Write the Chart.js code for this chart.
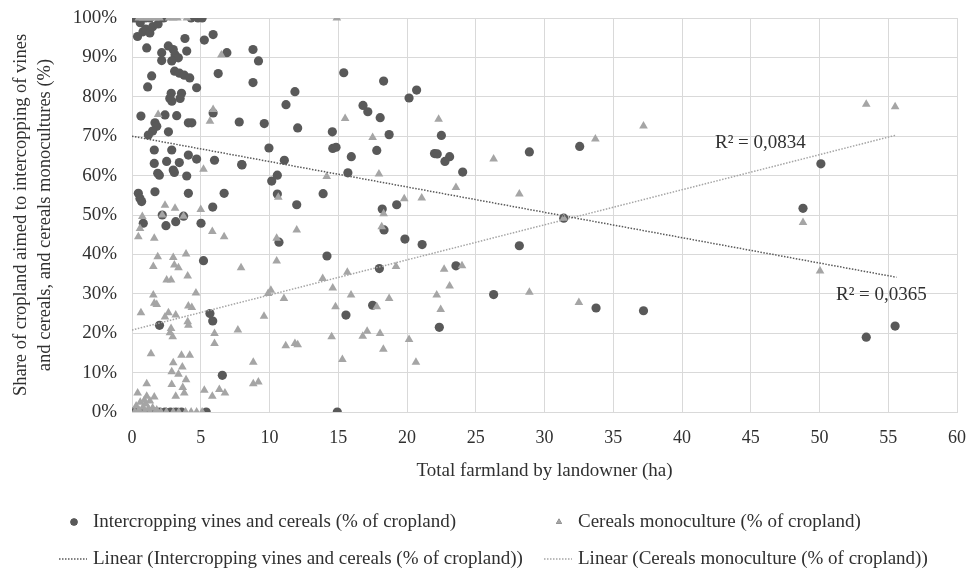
<!DOCTYPE html>
<html>
<head>
<meta charset="utf-8">
<script src="https://cdn.jsdelivr.net/npm/chart.js@4.4.0/dist/chart.umd.min.js"></script>
<style>
html, body { margin: 0; padding: 0; background: #fff; }
</style>
</head>
<body>
<canvas id="myChart" width="978" height="574"></canvas>
<script>
// Intercropping vines and cereals (% of cropland), x = total farmland (ha)
var intercropX = [0.1, 0.3, 0.6, 1.0, 1.3, 2.3, 4.3, 4.8, 5.1,
	0.4, 0.8, 1.0, 1.3, 1.5, 1.9, 0.6,
	3.85, 5.26, 5.9, 1.07, 2.64, 3.0, 2.16, 3.13, 3.37, 2.89, 2.16,
	3.98, 6.9, 1.43, 1.14, 3.1, 3.45, 3.8, 4.2, 4.7, 6.27, 2.85, 3.6, 2.75, 3.5, 2.9,
	0.65, 2.4, 3.25, 1.67, 1.8, 1.5, 4.1, 4.35, 2.65, 1.19, 5.9, 7.8,
	1.62, 2.89, 4.1, 4.7, 6.0, 8.0, 1.62, 2.52, 3.44, 3.0, 3.08, 1.87, 1.99, 3.98,
	0.46, 0.58, 0.7, 1.67, 4.1, 6.7, 5.87, 2.2, 3.75, 0.82, 2.47, 3.18, 5.02,
	5.2, 2.0, 5.67, 5.87, 6.57,
	0.1, 0.4, 0.8, 1.2, 1.6, 2.0, 2.4, 2.8, 3.2, 3.6, 5.4, 14.93,
	8.8, 9.2, 8.8, 15.4, 18.3, 11.85, 11.2, 20.15, 20.7, 16.8, 17.15, 18.05, 9.62, 12.05,
	14.57, 18.7, 9.96, 14.6, 14.84, 17.8, 22.0, 7.98, 11.08, 15.95, 15.7, 10.16, 10.57,
	10.57, 13.9, 11.98, 18.2, 19.25, 18.33, 10.69, 19.85, 21.1, 14.18, 17.99, 17.5, 15.56,
	28.9, 32.56, 22.5, 22.2, 23.1, 22.76, 24.05, 31.4, 28.17, 23.56, 22.35, 26.3, 33.75,
	37.2, 50.1, 48.8, 53.4, 55.5];
var intercropY = [100, 100, 100, 100, 100, 100, 100, 100, 100,
	95.3, 96.5, 97.2, 96.2, 97.8, 98.5, 98.8,
	94.8, 94.4, 95.8, 92.4, 92.9, 92.0, 91.2, 90.7, 89.9, 89.1, 89.2,
	91.6, 91.2, 85.3, 82.5, 86.5, 86.0, 85.5, 84.8, 82.3, 85.9, 80.9, 80.9, 79.6, 79.6, 78.9,
	75.1, 75.4, 75.2, 73.4, 72.5, 71.3, 73.4, 73.4, 71.1, 70.3, 75.9, 73.6,
	66.5, 66.5, 65.2, 64.2, 63.9, 62.7, 63.1, 63.6, 63.3, 61.4, 60.8, 60.6, 60.1, 59.9,
	55.5, 54.2, 53.4, 55.9, 55.5, 55.5, 52.0, 50.0, 49.7, 47.9, 47.3, 48.3, 47.9,
	38.4, 22.0, 25.0, 23.1, 9.3,
	0, 0, 0, 0, 0, 0, 0, 0, 0, 0, 0, 0,
	92.0, 89.1, 83.6, 86.1, 84.0, 81.3, 78.0, 79.7, 81.7, 77.8, 76.2, 74.7, 73.2, 72.1,
	71.1, 70.4, 67.0, 66.9, 67.2, 66.4, 65.6, 62.8, 63.9, 64.8, 60.7, 58.6, 60.1,
	55.3, 55.4, 52.6, 51.5, 52.6, 46.2, 43.1, 43.9, 42.5, 39.6, 36.4, 27.1, 24.6,
	66.0, 67.4, 70.2, 65.5, 64.8, 63.6, 60.9, 49.2, 42.2, 37.1, 21.5, 29.8, 26.4,
	25.7, 63.0, 51.7, 19.0, 21.8];

// Cereals monoculture (% of cropland)
var cerealsX = [0.5, 0.8, 1.1, 1.4, 1.7, 2.0, 2.7, 3.0, 3.3, 4.0,
	14.9, 6.5, 1.9, 5.9, 5.67, 5.2, 2.4, 3.13, 5.0, 2.2, 3.75, 0.75, 0.58, 0.46, 1.62,
	5.84, 6.7, 1.87, 3.0, 3.93, 1.55, 3.08, 3.38, 7.93, 2.52, 2.84, 4.05, 4.65, 1.55,
	1.62, 1.8, 4.1, 4.35, 0.65, 2.65, 3.18, 2.4, 4.05, 4.1, 2.84, 2.76, 2.96, 6.0, 6.0,
	7.7, 1.38, 3.6, 4.2, 3.0, 3.66, 2.89, 3.38, 3.93, 1.07, 2.89, 3.69, 3.8, 3.18,
	0.41, 1.07, 1.62, 5.26, 5.84, 6.35, 6.76,
	0.3, 0.6, 0.8, 1.0, 1.2, 0.5, 1.5, 1.8, 0.9, 1.3,
	0.2, 0.5, 0.9, 1.3, 1.7, 2.1, 2.5, 3.0, 3.4, 3.9, 4.3, 4.7, 5.1,
	14.16, 17.96, 10.64, 19.8, 21.07, 15.5, 17.5, 18.3, 18.16, 10.52, 11.98, 10.52,
	19.2, 15.66, 13.87, 14.6, 15.93, 18.7, 10.1, 9.9, 11.05, 14.8, 17.8, 9.6, 14.52,
	16.78, 17.1, 18.04, 20.15, 18.28, 11.18, 11.85, 12.05, 15.3, 20.65, 8.82, 8.82, 9.19,
	22.3, 26.3, 33.7, 37.2, 23.56, 28.17, 31.4, 24.0, 22.7, 23.1, 22.16, 22.45, 28.9,
	32.5, 53.4, 55.5, 48.8, 50.04];
var cerealsY = [100, 100, 100, 100, 100, 100, 100, 100, 100, 100,
	100, 90.6, 75.5, 76.8, 73.8, 61.6, 52.5, 51.7, 51.4, 50.0, 49.7, 49.6, 46.6, 44.5, 44.1,
	45.8, 44.5, 39.4, 39.2, 40.1, 36.9, 37.3, 36.6, 36.6, 33.5, 33.5, 34.5, 30.2, 29.7,
	27.6, 27.3, 26.9, 26.5, 25.2, 25.2, 24.6, 24.1, 22.9, 22.0, 21.2, 20.1, 19.1, 19.9, 17.4,
	20.8, 14.8, 14.4, 14.4, 12.5, 11.4, 10.2, 9.6, 8.2, 7.2, 7.0, 6.2, 4.8, 4.0,
	4.8, 4.0, 3.8, 5.5, 4.0, 5.7, 4.8,
	1.5, 2.5, 1.2, 2.0, 0.8, 0.5, 1.0, 0.5, 3.0, 2.8,
	0, 0, 0, 0, 0, 0, 0, 0, 0, 0, 0, 0, 0,
	59.8, 60.4, 54.5, 54.1, 54.3, 74.5, 69.7, 50.3, 47.0, 44.1, 46.2, 38.3,
	36.9, 35.5, 33.9, 31.5, 29.7, 28.8, 30.9, 30.1, 28.8, 26.7, 26.7, 24.3, 19.1,
	19.2, 20.5, 19.9, 18.4, 15.9, 16.8, 17.4, 17.1, 13.3, 12.6, 12.6, 7.2, 7.6,
	74.3, 64.2, 69.3, 72.6, 57.0, 55.3, 49.2, 37.1, 36.2, 32.0, 29.7, 26.0, 30.4,
	27.8, 78.1, 77.5, 48.1, 35.8];

// linear trendlines, end points
var trendX = [0, 55.6];
var intercropTrendY = [70.0, 34.2];
var cerealsTrendY = [20.8, 70.3];
var r2Text = ['R² = 0,0834', 'R² = 0,0365'];
var r2X = [42.4, 51.2];
var r2Y = [68.3, 29.7];

var seriesNames = ['Intercropping vines and cereals (% of cropland)', 'Cereals monoculture (% of cropland)'];

function toPoints(xs, ys) {
	var out = [];
	for (var i = 0; i < xs.length; i++) {
		out.push({ x: xs[i], y: ys[i] });
	}
	return out;
}

var serif = 'Liberation Serif, Times New Roman, serif';
var darkGrey = '#595959';
var lightGrey = '#a5a5a5';
var textCol = '#303030';

// R² labels next to the trendlines
var r2Plugin = {
	id: 'r2labels',
	afterDatasetsDraw: function(chart) {
		var ctx = chart.ctx;
		ctx.save();
		ctx.font = '19px ' + serif;
		ctx.fillStyle = textCol;
		ctx.textAlign = 'left';
		ctx.textBaseline = 'middle';
		for (var i = 0; i < r2Text.length; i++) {
			ctx.fillText(r2Text[i], chart.scales.x.getPixelForValue(r2X[i]), chart.scales.y.getPixelForValue(r2Y[i]));
		}
		ctx.restore();
	}
};

// legend laid out in two columns like the original
var legendPlugin = {
	id: 'twoColLegend',
	afterDraw: function(chart) {
		var ctx = chart.ctx;
		var ds = chart.data.datasets;
		var slots = [
			{ x: 59, y: 522 },
			{ x: 544, y: 522 },
			{ x: 59, y: 559 },
			{ x: 544, y: 559 }
		];
		ctx.save();
		ctx.font = '19px ' + serif;
		ctx.textBaseline = 'middle';
		for (var i = 0; i < ds.length; i++) {
			var s = slots[i];
			if (ds[i].showLine) {
				ctx.strokeStyle = ds[i].borderColor;
				ctx.lineWidth = 1.5;
				ctx.setLineDash([1.5, 1.5]);
				ctx.beginPath();
				ctx.moveTo(s.x, s.y);
				ctx.lineTo(s.x + 28, s.y);
				ctx.stroke();
				ctx.setLineDash([]);
			} else {
				Chart.helpers.drawPoint(ctx, {
					pointStyle: ds[i].pointStyle,
					radius: 3.5,
					borderWidth: 0,
					rotation: 0
				}, s.x + 15, s.y);
				ctx.fillStyle = ds[i].backgroundColor;
				ctx.fill();
			}
			ctx.fillStyle = textCol;
			ctx.fillText(ds[i].label, s.x + 34, s.y);
		}
		ctx.restore();
	}
};

var ctx = document.getElementById('myChart').getContext('2d');
var chart = new Chart(ctx, {
	type: 'scatter',
	data: {
		datasets: [{
			label: seriesNames[0],
			data: toPoints(intercropX, intercropY),
			pointStyle: 'circle',
			pointRadius: 4.6,
			backgroundColor: darkGrey,
			borderColor: darkGrey,
			borderWidth: 0,
			order: 2
		}, {
			label: seriesNames[1],
			data: toPoints(cerealsX, cerealsY),
			pointStyle: 'triangle',
			pointRadius: 5,
			backgroundColor: lightGrey,
			borderColor: lightGrey,
			borderWidth: 0,
			order: 1
		}, {
			label: 'Linear (' + seriesNames[0] + ')',
			data: toPoints(trendX, intercropTrendY),
			showLine: true,
			pointRadius: 0,
			borderColor: darkGrey,
			borderWidth: 1.5,
			borderDash: [1.5, 1.5],
			order: 0
		}, {
			label: 'Linear (' + seriesNames[1] + ')',
			data: toPoints(trendX, cerealsTrendY),
			showLine: true,
			pointRadius: 0,
			borderColor: lightGrey,
			borderWidth: 1.5,
			borderDash: [1.5, 1.5],
			order: 0
		}]
	},
	options: {
		responsive: false,
		animation: false,
		devicePixelRatio: 1,
		layout: { autoPadding: false, padding: { top: 18, right: 21, bottom: 88, left: 0 } },
		plugins: {
			legend: { display: false },
			tooltip: { enabled: false }
		},
		scales: {
			x: {
				type: 'linear',
				min: 0,
				max: 60,
				ticks: { stepSize: 5, color: textCol, font: { family: serif, size: 18 }, padding: 15 },
				grid: { color: '#d9d9d9', drawTicks: false },
				border: { color: '#d9d9d9' },
				title: {
					display: true,
					text: 'Total farmland by landowner (ha)',
					color: textCol,
					font: { family: serif, size: 19 },
					padding: { top: 0, bottom: 4 }
				},
				afterFit: function(scale) {
					scale.height = 74;
					scale.paddingLeft = 0;
					scale.paddingRight = 10;
				}
			},
			y: {
				min: 0,
				max: 100,
				ticks: {
					stepSize: 10,
					color: textCol,
					font: { family: serif, size: 19 },
					padding: 15,
					callback: function(v) { return v + '%'; }
				},
				grid: { color: '#d9d9d9', drawTicks: false },
				border: { color: '#d9d9d9' },
				title: {
					display: true,
					text: ['Share of cropland aimed to intercopping of vines', 'and cereals, and cereals monocultures (%)'],
					color: textCol,
					font: { family: serif, size: 18.5, lineHeight: 1.25 },
					padding: { top: 10, bottom: 0 }
				},
				afterFit: function(scale) {
					scale.width = 132;
					scale.paddingTop = 11;
					scale.paddingBottom = 11;
				}
			}
		}
	},
	plugins: [r2Plugin, legendPlugin]
});
</script>
</body>
</html>
